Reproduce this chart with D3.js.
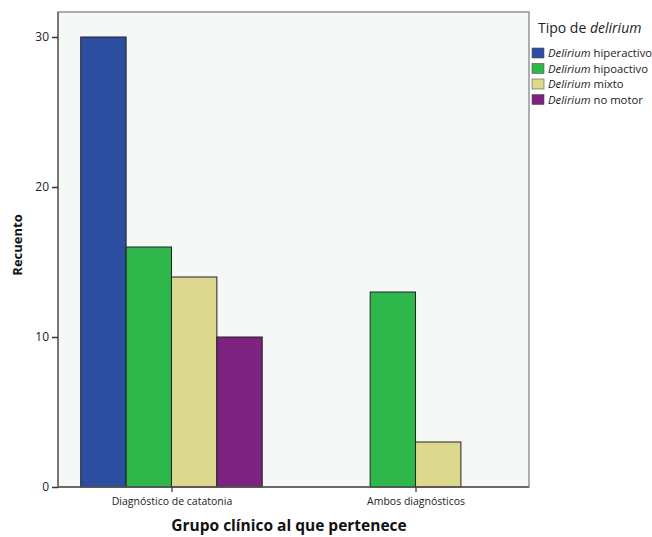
<!DOCTYPE html>
<html><head><meta charset="utf-8">
<script src="https://cdn.jsdelivr.net/npm/d3@7"></script>
<style>body{margin:0;background:#fff;} svg{display:block;font-family:"Open Sans",sans-serif;}</style>
</head><body><svg id="c" width="652" height="537"></svg>
<script>
const categories = ["Diagnóstico de catatonia", "Ambos diagnósticos"];
const seriesNames = ["hiperactivo", "hipoactivo", "mixto", "no motor"];
const seriesColors = ["#2b4ea1", "#2eb74b", "#dcd98f", "#7b237f"];
const hiperactivo = [30, 0];
const hipoactivo = [16, 13];
const mixto = [14, 3];
const noMotor = [10, 0];
const yTicks = [0, 10, 20, 30];
const seriesValues = [hiperactivo, hipoactivo, mixto, noMotor];

const svg = d3.select("#c");
const L = 58, R = 529, T = 12, B = 487;
svg.append("rect").attr("x", L).attr("y", T).attr("width", R - L).attr("height", B - T)
  .attr("fill", "#f6f7f7").attr("stroke", "#7a7a7a").attr("stroke-width", 1.2);

const y = d3.scaleLinear().domain([0, 30]).range([B, 37]);
const x0 = d3.scalePoint().domain(categories).range([L, R]).padding(0.465);
const groupW = 181.5;
const x1 = d3.scaleBand().domain(seriesNames).range([-groupW / 2, groupW / 2]);

const data = [];
categories.forEach((c, ci) => seriesNames.forEach((s, si) => {
  const v = seriesValues[si][ci];
  if (v > 0) data.push({c, s, si, v});
}));
svg.append("g").selectAll("rect").data(data).join("rect")
  .attr("x", d => x0(d.c) + x1(d.s))
  .attr("y", d => y(d.v))
  .attr("width", x1.bandwidth())
  .attr("height", d => y(0) - y(d.v))
  .attr("fill", d => seriesColors[d.si])
  .attr("stroke", "#222").attr("stroke-width", 1);

const ya = svg.append("g").attr("transform", `translate(${L},0)`)
  .call(d3.axisLeft(y).tickValues(yTicks).tickSize(6).tickPadding(3).tickFormat(d3.format("d")));
ya.select(".domain").attr("stroke", "#666").attr("stroke-width", 1.5).attr("d", `M0,${T}V${B}`);
ya.selectAll(".tick line").attr("stroke", "#333").attr("stroke-width", 1.5);
ya.selectAll(".tick text").attr("font-size", 12).attr("fill", "#222").attr("font-family", "Open Sans");

const xa = svg.append("g").attr("transform", `translate(0,${B})`)
  .call(d3.axisBottom(x0).tickSize(5).tickPadding(6));
xa.select(".domain").attr("stroke", "#555").attr("stroke-width", 1.5).attr("d", `M${L},0H${R}`);
xa.selectAll(".tick line").attr("stroke", "#333").attr("stroke-width", 1.2);
xa.selectAll(".tick text").attr("font-size", 10.5).attr("fill", "#222").attr("font-family", "Open Sans");

svg.append("text").attr("transform", "translate(22,245) rotate(-90)").attr("text-anchor", "middle")
  .attr("font-size", 13).attr("font-weight", "bold").attr("fill", "#111").text("Recuento");
svg.append("text").attr("x", 289).attr("y", 531).attr("text-anchor", "middle")
  .attr("font-size", 15.5).attr("font-weight", "bold").attr("fill", "#111").text("Grupo clínico al que pertenece");

const lt = svg.append("text").attr("x", 538).attr("y", 33).attr("font-size", 14).attr("fill", "#222");
lt.append("tspan").text("Tipo de ");
lt.append("tspan").attr("font-style", "italic").text("delirium");

const lg = svg.append("g").selectAll("g").data(seriesNames).join("g")
  .attr("transform", (d, i) => `translate(532,${48 + i * 15.5})`);
lg.append("rect").attr("width", 12).attr("height", 10).attr("fill", (d, i) => seriesColors[i])
  .attr("stroke", "#555").attr("stroke-width", 0.6);
const lte = lg.append("text").attr("x", 16).attr("y", 9).attr("font-size", 11.3).attr("fill", "#222");
lte.append("tspan").attr("font-style", "italic").text("Delirium");
lte.append("tspan").text(d => " " + d);
</script></body></html>
